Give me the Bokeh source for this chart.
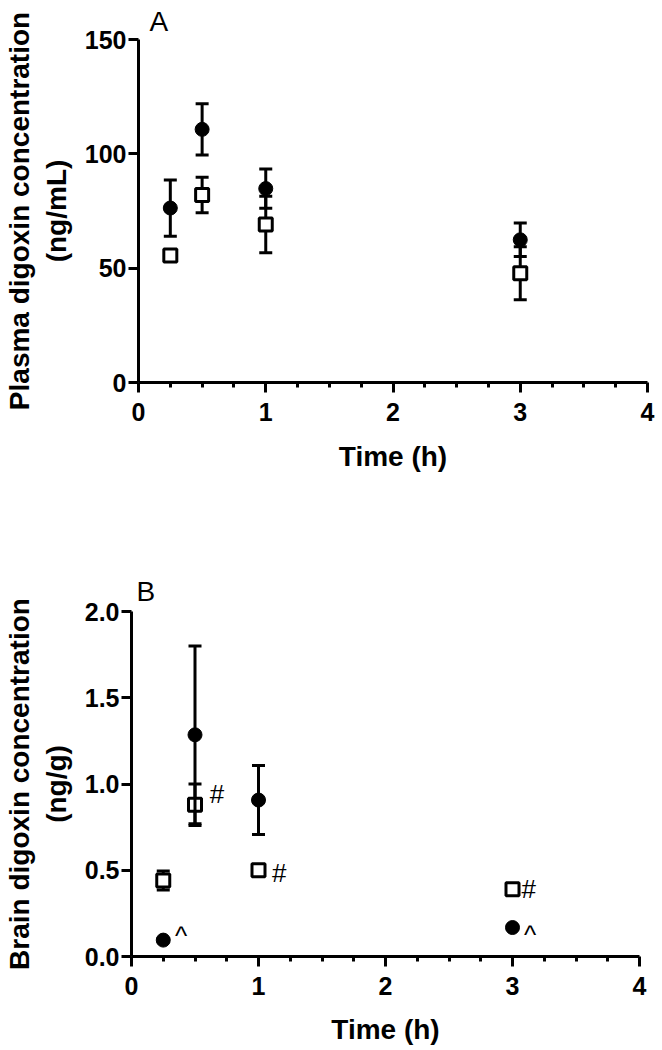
from bokeh.plotting import figure
from bokeh.models import Range1d, FixedTicker, NumeralTickFormatter, ColumnDataSource
from bokeh.layouts import column, row
from bokeh.core.properties import value
from bokeh.embed import file_html
from bokeh.resources import INLINE

# ---------------- data ----------------
time_h = [0.25, 0.5, 1.0, 3.0]

# Panel A: plasma digoxin (ng/mL)
plasma_circle_mean = [76.3, 110.7, 84.8, 62.4]
plasma_circle_sd = [12.3, 11.2, 8.6, 7.3]
plasma_square_mean = [55.5, 82.0, 69.1, 47.8]
plasma_square_sd = [1.5, 7.8, 12.4, 11.6]

# Panel B: brain digoxin (ng/g)
brain_circle_mean = [0.095, 1.285, 0.907, 0.168]
brain_circle_sd = [0.01, 0.515, 0.20, 0.01]
brain_square_mean = [0.44, 0.88, 0.50, 0.39]
brain_square_sd = [0.055, 0.12, 0.02, 0.02]

# significance marks in panel B
mark_text = ["#", "#", "#", "^", "^"]
mark_x = [0.616, 1.107, 3.071, 0.343, 3.09]
mark_y = [0.943, 0.486, 0.393, 0.117, 0.122]

x_ticks = [0, 1, 2, 3, 4]
x_minor = [0.25, 0.5, 0.75, 1.25, 1.5, 1.75, 2.25, 2.5, 2.75, 3.25, 3.5, 3.75]
yA_ticks = [0, 50, 100, 150]
yB_ticks = [0, 0.5, 1.0, 1.5, 2.0]

FONT = "Liberation Sans"
LW = 3


def style_axes(p, yticks, ylabel, xlabel_standoff, yfmt=None):
    p.xgrid.visible = False
    p.ygrid.visible = False
    p.outline_line_color = None
    p.xaxis.ticker = FixedTicker(ticks=x_ticks, minor_ticks=x_minor)
    p.yaxis.ticker = FixedTicker(ticks=yticks)
    if yfmt:
        p.yaxis.formatter = NumeralTickFormatter(format=yfmt)
    for ax in (p.xaxis[0], p.yaxis[0]):
        ax.axis_line_width = LW
        ax.axis_line_color = "black"
        ax.major_tick_line_width = LW
        ax.major_tick_line_color = "black"
        ax.major_tick_out = 10
        ax.major_tick_in = 0
        ax.minor_tick_line_width = LW
        ax.minor_tick_line_color = "black"
        ax.minor_tick_out = 5
        ax.minor_tick_in = 0
        ax.major_label_text_font = FONT
        ax.major_label_text_font_style = "bold"
        ax.major_label_text_font_size = "25px"
        ax.major_label_text_color = "black"
        ax.axis_label_text_font = FONT
        ax.axis_label_text_font_style = "bold"
        ax.axis_label_text_font_size = "28px"
        ax.axis_label_text_color = "black"
    p.yaxis.minor_tick_line_color = None
    p.yaxis.major_label_standoff = 2
    p.xaxis.major_label_standoff = 10
    p.xaxis.axis_label = "Time (h)"
    p.xaxis.axis_label_standoff = xlabel_standoff
    p.yaxis.axis_label = ylabel
    p.yaxis.axis_label_standoff = 10


def draw_series(p, mean, sd, kind):
    lo = [m - s for m, s in zip(mean, sd)]
    hi = [m + s for m, s in zip(mean, sd)]
    src = ColumnDataSource(dict(t=time_h, m=mean, lo=lo, hi=hi))
    p.segment(x0="t", y0="lo", x1="t", y1="hi", source=src, line_width=LW, line_color="black")
    p.scatter(x="t", y="lo", source=src, marker="dash", size=13, line_width=LW, line_color="black")
    p.scatter(x="t", y="hi", source=src, marker="dash", size=13, line_width=LW, line_color="black")
    if kind == "circle":
        p.scatter(x="t", y="m", source=src, marker="circle", size=14,
                  fill_color="black", line_color="black", line_width=1)
    else:
        p.scatter(x="t", y="m", source=src, marker="square", size=13,
                  fill_color="white", line_color="black", line_width=LW)


def style_title(p, offset, standoff):
    p.title.text_font = FONT
    p.title.text_font_size = "28px"
    p.title.text_font_style = "normal"
    p.title.text_color = "black"
    p.title.align = "left"
    p.title.offset = offset
    p.title.standoff = standoff


W = 660

# ---------------- Panel A ----------------
pA = figure(width=W, height=500, output_backend="svg", toolbar_location=None,
            title="A",
            x_range=Range1d(0, 4), y_range=Range1d(0, 150),
            min_border_left=134, min_border_right=W - 134 - 513,
            min_border_top=39, min_border_bottom=500 - 39 - 343)
style_axes(pA, yA_ticks, "Plasma digoxin concentration\n(ng/mL)", 17)
style_title(pA, 11, 6)
draw_series(pA, plasma_square_mean, plasma_square_sd, "square")
draw_series(pA, plasma_circle_mean, plasma_circle_sd, "circle")

# ---------------- Panel B ----------------
HB = 549
pB = figure(width=W, height=HB, output_backend="svg", toolbar_location=None,
            title="B",
            x_range=Range1d(0, 4), y_range=Range1d(0, 2),
            min_border_left=126, min_border_right=W - 126 - 513,
            min_border_top=111, min_border_bottom=HB - 111 - 345)
style_axes(pB, yB_ticks, "Brain digoxin concentration\n(ng/g)", 16, "0.0")
style_title(pB, 5, 9)
draw_series(pB, brain_square_mean, brain_square_sd, "square")
draw_series(pB, brain_circle_mean, brain_circle_sd, "circle")
pB.text(x=mark_x, y=mark_y, text=mark_text, text_font=value(FONT), text_font_size="26px",
        text_align="left", text_baseline="alphabetic", text_color="black")

layout = column(row(pA), row(pB), spacing=0)
open("out.html", "w").write(file_html(layout, INLINE))
